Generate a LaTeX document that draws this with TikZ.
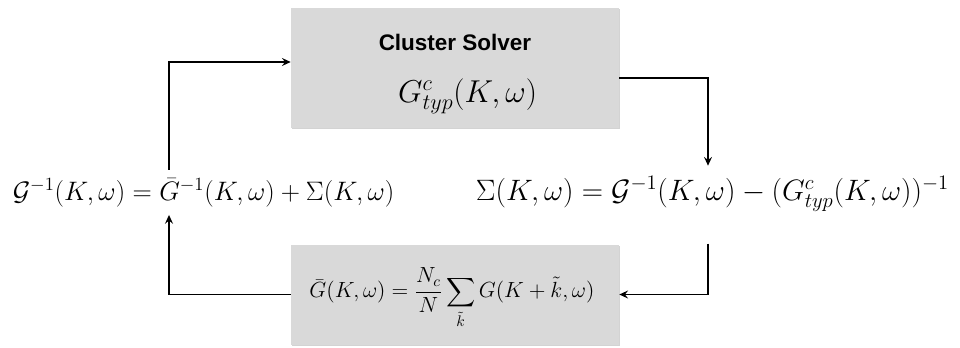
\RequirePackage{fix-cm}
\documentclass[tikz,border=0pt]{standalone}
\usepackage{amsmath}
\usepackage{fontspec}
\newfontfamily\labelfont{Liberation Sans}
\usetikzlibrary{positioning, arrows.meta, shadows}

\begin{document}
\begin{tikzpicture}[
    every node/.style = {inner sep=0pt},
    block/.style  = {draw=none, fill=black!15, minimum width=8.2cm,
                     drop shadow={shadow xshift=0.4pt, shadow yshift=-0.8pt, opacity=0.35}},
    title/.style  = {font=\labelfont\bfseries\fontsize{16}{19}\selectfont},
    link/.style   = {line width=1.2pt},
    >={Stealth[length=2.2mm, width=2mm, inset=0.8mm]}
]
\useasboundingbox (0, 0) rectangle (24, 8.675);

% the two boxes
\node[block, minimum height=3.0cm] (solver) at (11.375, 6.975)  {};
\node[block, minimum height=2.5cm] (avg)    at (11.375, 1.3125) {};

% box contents
\node[title] (soltitle) at (11.375, 7.625) {Cluster Solver};
\node[font=\fontsize{22.5}{27}\selectfont, anchor=base] (gtyp) at (11.69, 6.125)
    {$G^{c}_{typ}(K,\omega)$};
\node[font=\fontsize{15.6}{19}\selectfont] (avgeq) at (11.3, 1.225)
    {$\displaystyle \bar{G}(K,\omega)=\frac{N_c}{N}\sum_{\tilde{k}}G(K+\tilde{k},\omega)$};

% self-consistency equations
\node[font=\fontsize{19}{23}\selectfont, anchor=base] (lhs) at (5.09, 3.675)
    {$\mathcal{G}^{-1}(K,\omega)=\bar{G}^{-1}(K,\omega)+\Sigma(K,\omega)$};
\node[font=\fontsize{21}{25}\selectfont, anchor=base] (rhs) at (17.81, 3.675)
    {$\Sigma(K,\omega)=\mathcal{G}^{-1}(K,\omega)-(G^{c}_{typ}(K,\omega))^{-1}$};

% columns of the vertical arrows
\coordinate (lcol) at (4.225, 3.675);
\coordinate (rcol) at (17.7, 3.675);

% connections
\draw[link, ->] ([yshift=0.2cm]lhs.north -| lcol) |- ([yshift=0.15cm]solver.west);
\draw[link, ->] ([yshift=-0.25cm]solver.east) -| ([yshift=0.25cm]rhs.north -| rcol);
\draw[link, ->] ([yshift=-0.8cm]rhs.south -| rcol) |- (avg.east);
\draw[link, ->] (avg.west) -| ([yshift=-0.2cm]lhs.south -| lcol);

\end{tikzpicture}
\end{document}
